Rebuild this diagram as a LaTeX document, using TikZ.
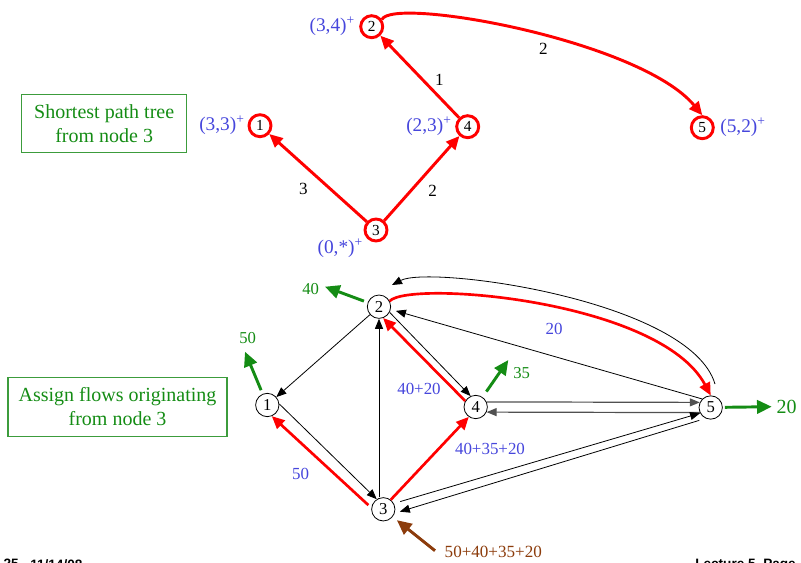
\documentclass[tikz,border=0pt]{standalone}
\usepackage{fontspec}
\setmainfont{Liberation Serif}
\newfontfamily\footfont{Liberation Sans}
\usetikzlibrary{positioning,arrows.meta,calc}
\definecolor{TreeRed}{HTML}{FF0000}
\definecolor{FlowBlue}{HTML}{4646DC}
\definecolor{OutGreen}{HTML}{148C14}
\definecolor{BoxGreen}{HTML}{3C9C3C}
\definecolor{InBrown}{HTML}{8C3C0C}
\definecolor{PairGray}{HTML}{505050}

\begin{document}
\begin{tikzpicture}[
  x=0.75pt, y=-0.75pt,
  % --- node styles ---
  tnode/.style={circle, draw=TreeRed, line width=2.2pt, minimum size=16.5pt, inner sep=0pt, font=\fontsize{11.5}{12}\selectfont},
  gnode/.style={circle, draw=black, line width=0.6pt, minimum size=17.5pt, inner sep=0pt, font=\fontsize{12.5}{13}\selectfont},
  dlbl/.style={text=FlowBlue, inner sep=1pt, font=\fontsize{14.5}{15}\selectfont},
  wlbl/.style={inner sep=1pt, font=\fontsize{12.8}{13}\selectfont},
  flbl/.style={text=FlowBlue, inner sep=1pt, font=\fontsize{12.7}{13}\selectfont},
  glbl/.style={text=OutGreen, inner sep=1pt, font=\fontsize{12.5}{13}\selectfont},
  notebox/.style={draw=BoxGreen, line width=0.8pt, text=OutGreen, align=center, inner sep=0pt, font=\fontsize{15}{17.8}\selectfont},
  footer/.style={inner sep=0pt, font=\footfont\bfseries\fontsize{10.2}{11}\selectfont},
  % --- connector styles ---
  treearc/.style={-{Triangle[length=10pt,width=9pt]}, TreeRed, line width=2.2pt},
  flowarc/.style={-{Triangle[length=9.5pt,width=8.5pt]}, TreeRed, line width=2pt},
  linkarc/.style={-{Triangle[length=7.5pt,width=6pt]}, black, line width=0.6pt},
  pairarc/.style={-{Triangle[length=7.5pt,width=6pt]}, PairGray, line width=0.9pt},
  outflow/.style={-{Triangle[length=11pt,width=10pt]}, OutGreen, line width=2.2pt},
  inflow/.style={-{Triangle[length=11pt,width=10pt]}, InBrown, line width=2.2pt},
]
\useasboundingbox (0,0) rectangle (801,563);

% =================== SHORTEST PATH TREE ===================
\node[notebox, minimum width=123.75pt, minimum height=43.5pt] (treeNote) at (104.2,123.8)
  {Shortest path tree\\from node 3};

\node[tnode] (t1) at (260,125.7) {1};
\node[tnode] (t2) at (371.7,26.7) {2};
\node[tnode] (t3) at (376,230) {3};
\node[tnode] (t4) at (467.7,126.7) {4};
\node[tnode] (t5) at (702.3,127.7) {5};

% labels (distance, predecessor)
\node[dlbl, left=1pt of t1] (t1L) {(3,3)\textsuperscript{+}};
\node[dlbl, left=2pt of t2] (t2L) {(3,4)\textsuperscript{+}};
\node[dlbl, below left=-1pt and 2pt of t3] (t3L) {(0,*)\textsuperscript{+}};
\node[dlbl, left=1.5pt of t4] (t4L) {(2,3)\textsuperscript{+}};
\node[dlbl, right=3pt of t5] (t5L) {(5,2)\textsuperscript{+}};

% tree arcs
\draw[treearc] (t3) -- (t1);
\draw[treearc] (t3) -- (t4);
\draw[treearc] (t4) -- (t2);
\draw[treearc] (t2.35) .. controls (392,-4) and (640,40) .. (t5.north);

\node[wlbl] (w31) at (303.3,189) {3};
\node[wlbl] (w34) at (432.7,190.7) {2};
\node[wlbl] (w42) at (439.3,80) {1};
\node[wlbl] (w25) at (543.3,49.3) {2};

% =================== FLOW ASSIGNMENT ===================
\node[notebox, minimum width=164.25pt, minimum height=44.25pt] (flowNote) at (117.5,406.7)
  {Assign flows originating\\from node 3};

\node[gnode] (b1) at (267.3,405) {1};
\node[gnode] (b2) at (379,306.7) {2};
\node[gnode] (b3) at (383.3,509.3) {3};
\node[gnode] (b4) at (475.7,407) {4};
\node[gnode] (b5) at (710.7,407.5) {5};

% network links
\draw[linkarc] (b2) -- (b1);
\draw[linkarc] (b1.5) -- (b3.123);
\draw[linkarc] (b3.north -| b2) -- (b2);
\draw[linkarc] (b2.-28) -- (b4.115);
\draw[pairarc] (b4.25) -- (b5.155);
\draw[pairarc] (b5.-155) -- (b4.-25);
\draw[linkarc, shorten >=4pt] (b5.135) -- (b2.-13);
\draw[linkarc, shorten <=5pt] (b3.29) -- (b5.-152);
\draw[linkarc, shorten <=5pt, shorten >=4pt] (b5.-115) -- (b3.-19);
\coordinate (c5) at (715,384);
\coordinate (c2) at (392,285);
\draw[linkarc] (c5) .. controls (690,300) and (430,265) .. (c2);

% flows on the tree
\draw[flowarc, shorten <=3pt] (b3.173) -- (b1.-68);
\draw[flowarc] (b3.52) -- (b4.-125);
\draw[flowarc] (b4.150) -- (b2.-70);
\draw[flowarc] (b2.28) .. controls (410,280) and (660,300) .. (b5.north);

\node[flbl] (f31) at (300.7,474) {50};
\node[flbl] (f42) at (419,389.3) {40+20};
\node[flbl] (f34) at (490,449) {40+35+20};
\node[flbl] (f25) at (554,329) {20};

% flows leaving at destinations
\coordinate (g1) at (245,351.7);
\coordinate (g2) at (325,286.7);
\coordinate (g4) at (508.3,360);
\coordinate (g5) at (771.7,406.7);
\draw[outflow, shorten <=3pt] (b1) -- (g1);
\draw[outflow, shorten <=3pt] (b2) -- (g2);
\draw[outflow, shorten <=5pt] (b4) -- (g4);
\draw[outflow, shorten <=1.5pt] (b5) -- (g5);
\node[glbl] (g1L) at (247.7,337.7) {50};
\node[glbl] (g2L) at (310.7,289.3) {40};
\node[glbl] (g4L) at (521.7,372.7) {35};
\node[glbl, font=\fontsize{15}{16}\selectfont] (g5L) at (786.7,406.7) {20};

% flow entering at origin
\coordinate (s3) at (435,550.7);
\draw[inflow, shorten >=4pt] (s3) -- (b3);
\node[wlbl, text=InBrown] (s3L) at (493.3,551.7) {50+40+35+20};

% =================== FOOTER ===================
\node[footer, anchor=north east] (footL) at (19,559) {25};
\node[footer, anchor=north west] (footD) at (30,559) {11/14/08};
\node[footer, anchor=north west] (footR) at (695,559) {Lecture 5, Page};

\end{tikzpicture}
\end{document}
